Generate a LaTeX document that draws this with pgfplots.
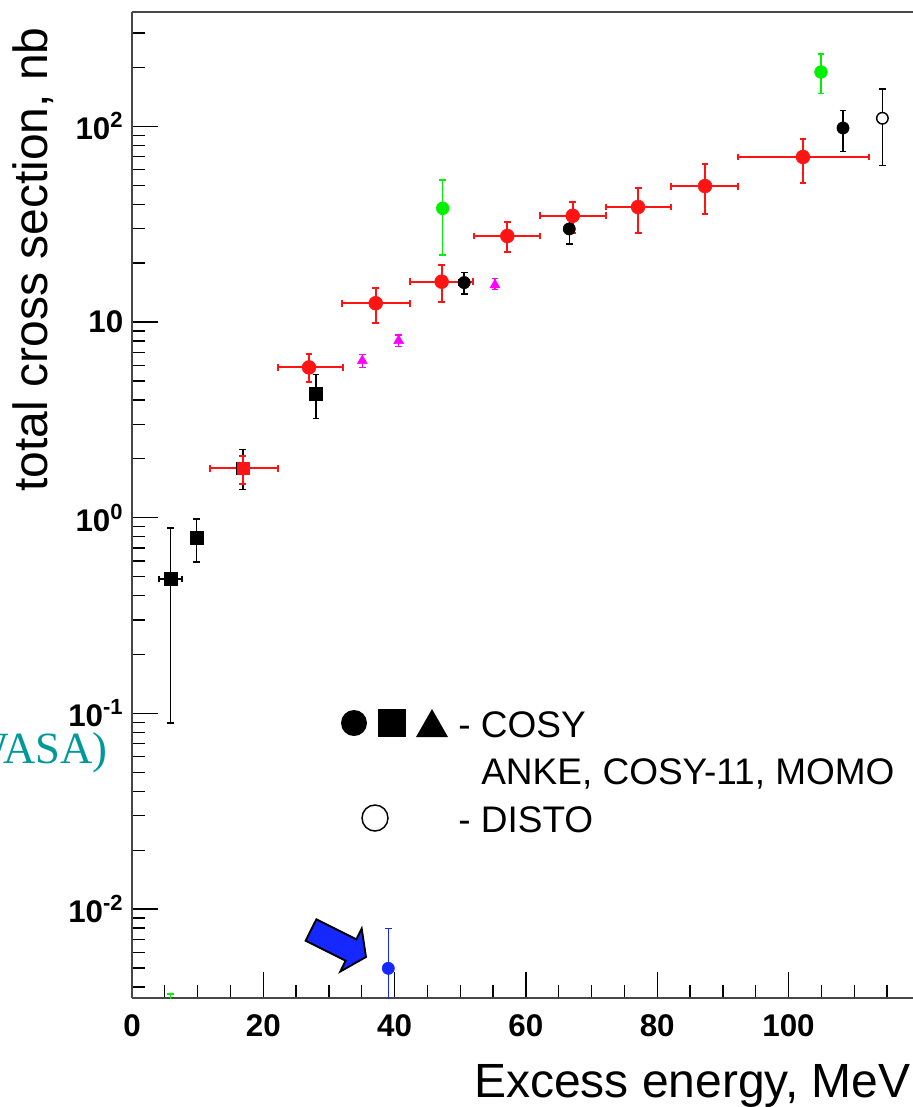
\documentclass[border=0pt]{standalone}
\usepackage{fontspec}
\setmainfont{Liberation Sans}
\newfontfamily\serifface{Liberation Serif}
\usepackage{pgfplots}
\pgfplotsset{compat=1.18}

\definecolor{wasateal}{RGB}{0,153,153}
\definecolor{magentapt}{RGB}{255,0,255}
\definecolor{greenpt}{RGB}{0,240,0}
\definecolor{bluept}{RGB}{20,40,255}
\definecolor{redpt}{RGB}{255,20,20}

\pgfplotsset{
  xyerr/.style={only marks,
    error bars/x dir=both, error bars/x explicit,
    error bars/y dir=both, error bars/y explicit,
    error bars/error bar style={line width=#1},
    error bars/error mark options={rotate=90, line width=#1, mark size=2.6pt}},
  xyerr/.default=1.1pt,
}

\begin{document}
\begin{tikzpicture}
\begin{axis}[
  at={(99pt,-748.5pt)}, anchor=south west,
  scale only axis, width=585.75pt, height=739.5pt,
  xmin=0, xmax=118.96,
  ymode=log, ymin=0.003513, ymax=383.7,
  axis x line*=box, axis y line*=left,
  every non boxed y axis/.style={},
  axis line style={-, line width=1.5pt, black!72},
  tick align=inside, xtick pos=lower, ytick pos=left,
  major tick length=19.5pt, minor tick length=9.75pt,
  every tick/.style={black, line width=1pt},
  xtick={0,20,40,60,80,100},
  xticklabels={0,20,40,60,80,100},
  minor xtick={5,10,...,115},
  ytick={0.01,0.1,1,10,100},
  yticklabels={10\textsuperscript{-2},10\textsuperscript{-1},10\textsuperscript{0},10,10\textsuperscript{2}},
  minor ytick={0.004,0.005,0.006,0.007,0.008,0.009,
               0.02,0.03,0.04,0.05,0.06,0.07,0.08,0.09,
               0.2,0.3,0.4,0.5,0.6,0.7,0.8,0.9,
               2,3,4,5,6,7,8,9,
               20,30,40,50,60,70,80,90,200,300},
  ticklabel style={font=\bfseries\fontsize{23.5}{26}\selectfont},
  xticklabel style={anchor=north, yshift=-9pt},
  yticklabel style={anchor=east, xshift=-3pt},
  xlabel={Excess energy, MeV},
  ylabel={total cross section, nb},
  every axis x label/.style={at={(axis description cs:1,0)}, anchor=base east,
    xshift=-1.5pt, yshift=-74.25pt, font=\fontsize{36}{40}\selectfont, inner sep=0pt},
  every axis y label/.style={at={(axis description cs:-0.1076,0.749)}, rotate=90, anchor=base,
    font=\fontsize{36}{40}\selectfont, inner sep=0pt},
]

% COSY-11 squares
\addplot[xyerr, black, mark=square*, mark size=4.8pt] coordinates {
  (5.9,0.486)  += (1.70,0.400) -= (1.79,0.3967)
  (9.85,0.787) += (0,0.198)    -= (0,0.193)
  (16.9,1.79)  += (0,0.44)     -= (0,0.40)
  (28.03,4.29) += (0,1.11)     -= (0,1.07)
};

% ANKE points
\addplot[xyerr=1.5pt, redpt, mark=square*, mark size=4.6pt] coordinates {
  (16.9,1.79) += (5.29,0.28) -= (5.02,0.30)
};
\addplot[xyerr=1.5pt, redpt, mark=*, mark size=5.2pt] coordinates {
  (26.96,5.86)  += (5.13,1.00)  -= (4.77,0.91)
  (37.12,12.47) += (5.23,2.43)  -= (5.09,2.57)
  (47.17,16.07) += (4.82,3.53)  -= (4.82,3.37)
  (57.17,27.5)  += (4.98,4.8)   -= (5.07,4.6)
  (67.13,34.9)  += (5.07,6.1)   -= (4.98,6.4)
  (77.08,38.7)  += (5.02,9.7)   -= (4.88,10.2)
  (87.28,49.5)  += (5.02,14.7)  -= (5.18,13.9)
  (102.2,69.7)  += (10.1,16.4)  -= (9.9,18.4)
};

% MOMO triangles
\addplot[xyerr=0.9pt, magentapt, mark=triangle*, mark size=4.3pt] coordinates {
  (35.08,6.33)  += (0,0.51) -= (0,0.49)
  (40.62,8.02)  += (0,0.57) -= (0,0.54)
  (55.29,15.45) += (0,1.25) -= (0,0.85)
};

% COSY-11 circles
\addplot[xyerr, black, mark=*, mark size=4.6pt] coordinates {
  (50.6,15.9)  += (0.8,2.05) -= (0.8,2.0)
  (66.6,29.9)  += (0,4.1)    -= (0,4.9)
  (108.3,98.0) += (0,22.2)   -= (0,23.8)
};

% green points
\addplot[xyerr, greenpt, mark=*, mark size=4.8pt] coordinates {
  (5.9,0.002)    += (0,0.00168) -= (0,0.001)
  (47.33,38.1)   += (0,15.1)    -= (0,16.1)
  (104.95,189.4) += (0,44.6)    -= (0,41.9)
};

% DISTO
\addplot[xyerr, black, mark=*, mark size=4.3pt, mark options={fill=white, line width=1.1pt}] coordinates {
  (114.3,109.9) += (0,45.1) -= (0,47.0)
};

% WASA
\addplot[xyerr=1pt, bluept, mark=*, mark size=4.6pt] coordinates {
  (39.04,0.00498) += (0,0.003) -= (0,0.004)
};
\end{axis}

\begin{scope}[x=0.75pt, y=-0.75pt]
  % key
  \fill (354,723) circle (13);
  \fill (378,709) rectangle (406,737);
  \fill (416,737) -- (448,737) -- (432,709) -- cycle;
  \node[anchor=base west, inner sep=0pt, font=\fontsize{27.75}{30}\selectfont] at (458,737) {- COSY};
  \node[anchor=base west, inner sep=0pt, font=\fontsize{27.75}{30}\selectfont] at (481,784) {ANKE, COSY-11, MOMO};
  \draw[line width=1.1pt, fill=white] (375,818) circle (13);
  \node[anchor=base west, inner sep=0pt, font=\fontsize{27.75}{30}\selectfont] at (458,832) {- DISTO};
  % arrow to the WASA point
  \draw[line width=1.4pt, fill=bluept, line join=miter]
    (316.4,919.3) -- (356.4,939.3) -- (361.7,928.5) -- (366,957)
    -- (340.3,971.5) -- (345.6,960.7) -- (305.6,940.7) -- cycle;
  \node[anchor=base east, inner sep=0pt, text=wasateal,
        font=\serifface\fontsize{33.5}{36}\selectfont] at (108,763) {(WASA)};
\end{scope}

\pgfresetboundingbox
\path[use as bounding box] (0,0) rectangle (684.75pt,-830.25pt);
\end{tikzpicture}
\end{document}
